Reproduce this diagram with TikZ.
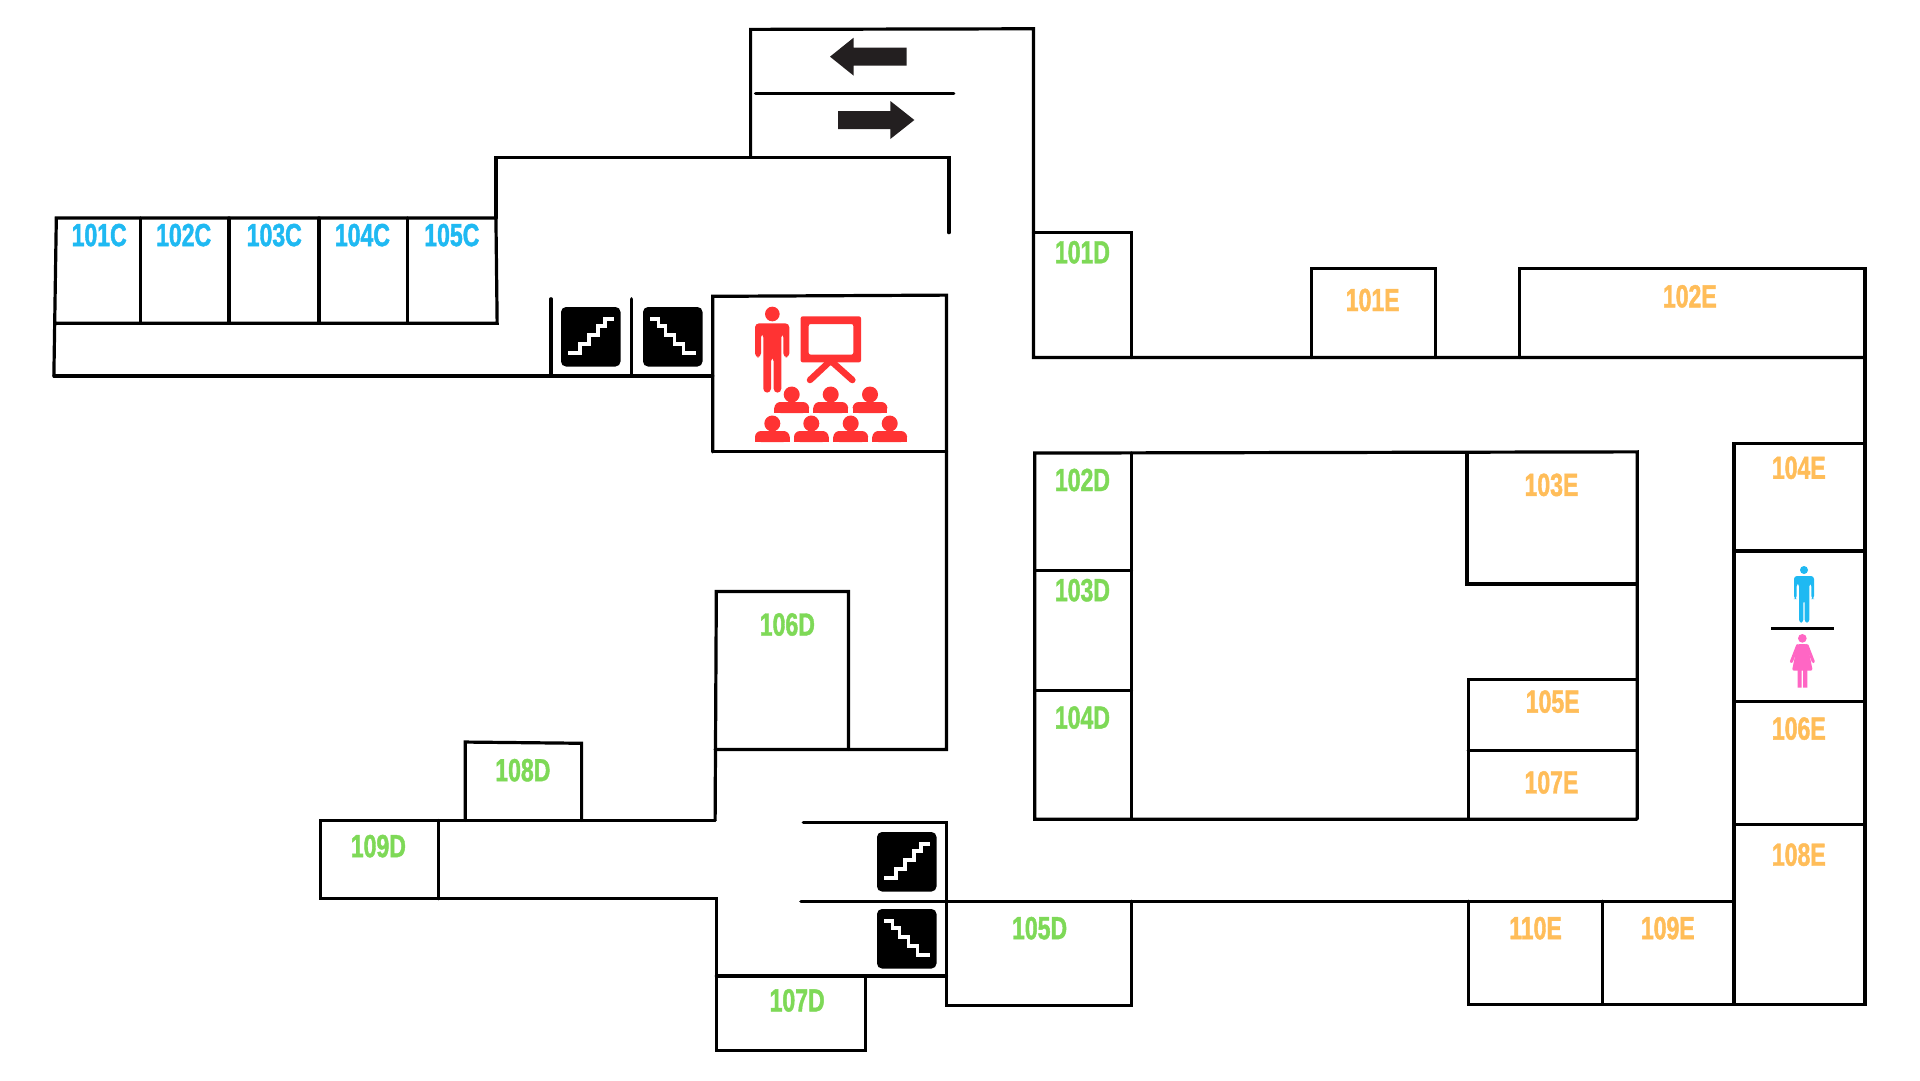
\documentclass[tikz,border=0pt]{standalone}
\usepackage{fontspec}
\newfontfamily\lblfont[FakeStretch=0.72,FakeBold=1.3]{Liberation Sans Bold}
\definecolor{cblue}{HTML}{1FB9F2}
\definecolor{cgreen}{HTML}{7ED957}
\definecolor{corange}{HTML}{FFBD59}
\definecolor{cred}{HTML}{FF3333}
\definecolor{cpink}{HTML}{FF66C4}
\definecolor{carrow}{HTML}{231F20}
\tikzset{
  wall/.style={line width=3.2pt,black,line cap=round,line join=miter},
  lbl/.style={font=\lblfont\fontsize{32}{32}\selectfont,inner sep=0pt},
  lblc/.style={lbl,text=cblue},
  lbld/.style={lbl,text=cgreen},
  lble/.style={lbl,text=corange},
  upstairs/.pic={
    \fill[black,rounded corners=5pt] (0,0) rectangle (59.5,59.5);
    \draw[white,line width=3.8pt,line join=miter] (7,46)--(19,46)--(19,37)--(28,37)--(28,28)--(37,28)--(37,19)--(44,19)--(44,12)--(53,12);
  },
  downstairs/.pic={
    \fill[black,rounded corners=5pt] (0,0) rectangle (59.5,59.5);
    \draw[white,line width=3.8pt,line join=miter] (52.5,46)--(40.5,46)--(40.5,37)--(31.5,37)--(31.5,28)--(22.5,28)--(22.5,19)--(15.5,19)--(15.5,12)--(6.5,12);
  },
  seated/.pic={
    \fill[cred] (0,-18.5) circle (8);
    \fill[cred,rounded corners=6pt] (-17.3,0)--(-17.3,-11)--(17.3,-11)--(17.3,0)--cycle;
    \fill[cred] (-17.3,-5) rectangle (17.3,0);
  }
}
\begin{document}
\begin{tikzpicture}[x=1pt,y=-1pt]
\useasboundingbox[fill=white] (0,0) rectangle (1920,1080);
% walls, in coordinates of a 1568-wide view
\begin{scope}[scale=1.2245]
\draw[wall] (613,128.5)--(613,24)--(844,23.5)--(844,292)--(1523,292);
\draw[wall] (617,76.5)--(779,76.5);
\draw[wall] (405,178)--(405,128.5)--(775,128.5)--(775,190);
\draw[wall] (44,307)--(46,178)--(405,178)--(406,264)--(45,264);
\draw[wall] (115,178)--(115,264) (187,178)--(187,264) (260.5,178)--(260.5,264) (332.5,178)--(332.5,264);
\draw[wall] (44,307)--(582,307);
\draw[wall] (450,244)--(450,307) (516,244)--(516,307);
\draw[wall] (582,369)--(582,242)--(773,241)--(773,612)--(584,612);
\draw[wall] (582,369)--(773,369);
\draw[wall] (584,670)--(585,483)--(693,483)--(693,612);
\draw[wall] (380,670)--(380,606)--(475,607)--(475,670);
\draw[wall] (584,670)--(262,670)--(262,734)--(585,734)--(585,858)--(707,858)--(707,797);
\draw[wall] (358,670)--(358,734);
\draw[wall] (585,797)--(773,797);
\draw[wall] (656,672)--(773,672)--(773,821)--(924,821)--(924,736);
\draw[wall] (654,736)--(1416,736);
\draw[wall] (844,190)--(924,190)--(924,292);
\draw[wall] (1071,292)--(1071,219)--(1172,219)--(1172,292);
\draw[wall] (1241,292)--(1241,219)--(1523,219)--(1523,820)--(1199,820)--(1199,736);
\draw[wall] (1309,736)--(1309,820);
\draw[wall] (1337,669)--(845,669)--(845,370)--(1337,369)--(1337,669);
\draw[wall] (924,370)--(924,669) (845,466)--(924,466) (845,564)--(924,564);
\draw[wall] (1198,370)--(1198,477)--(1337,477);
\draw[wall] (1199,669)--(1199,555)--(1337,555) (1199,613)--(1337,613);
\draw[wall] (1523,362)--(1416,362)--(1416,820);
\draw[wall] (1416,450)--(1523,450) (1416,573)--(1523,573) (1416,673)--(1523,673);
\end{scope}
% stairs
\pic at (561,307) {upstairs};
\pic at (643,307) {downstairs};
\pic at (877,832) {upstairs};
\pic at (877,909) {downstairs};
% arrows
\begin{scope}[shift={(740,10)},scale=1/3]
\fill[carrow] (270,140)--(341,83)--(341,113)--(500,113)--(500,167)--(341,167)--(341,197)--cycle;
\fill[carrow] (523,330)--(451,273)--(451,303)--(294,303)--(294,357)--(451,357)--(451,387)--cycle;
\end{scope}
% presenter
\begin{scope}[shift={(520,270)},scale=1/3]
\fill[cred] (757,132) circle (22);
\fill[cred,rounded corners=4pt] (705,262)--(705,160)--(808,160)--(808,262)--(790,262)--(790,190)--(784,190)--(784,368)--(761,368)--(761,262)--(753,262)--(753,368)--(730,368)--(730,190)--(723,190)--(723,262)--cycle;
\fill[cred,rounded corners=2pt,even odd rule] (842,139) rectangle (1023,277) (866,162) rectangle (1000,254);
\draw[cred,line width=6.5pt,line cap=round] (870,330)--(932,272)--(997,330);
\end{scope}
\foreach \cx/\by in {791.7/413,830.7/413,870/413,772.3/442,811.3/442,850.7/442,889.7/442}{
  \pic at (\cx,\by) {seated};
}
% toilets
\begin{scope}[shift={(1720,540)},scale=1/3]
\fill[cblue] (252,90) circle (12);
\fill[cblue,rounded corners=3pt] (222,177)--(222,108)--(282,108)--(282,177)--(274,177)--(274,130)--(268,130)--(268,248)--(254,248)--(254,180)--(250,180)--(250,248)--(237,248)--(237,130)--(230,130)--(230,177)--cycle;
\fill[black] (153,261) rectangle (341,269);
\fill[cpink] (247,295) circle (13);
\fill[cpink,rounded corners=2pt] (232,312)--(262,312)--(278,392)--(216,392)--cycle;
\fill[cpink] (233,388) rectangle (245,443) (249,388) rectangle (262,443);
\draw[cpink,line width=3pt,line cap=round] (233,316)--(214,365) (261,316)--(280,365);
\end{scope}
% labels
\begin{scope}[scale=1.2245]
\foreach \n/\x/\y in {101C/81/192,102C/150/192,103C/224/192,104C/296/192,105C/369/192}{
  \node[lblc] (r\n) at (\x,\y) {\n};
}
\foreach \n/\x/\y in {101D/884/206,102D/884/392,103D/884/482,104D/884/586,105D/849/758,106D/643/510,107D/651/817,108D/427/629,109D/309/691}{
  \node[lbld] (r\n) at (\x,\y) {\n};
}
\foreach \n/\x/\y in {101E/1121/245,102E/1380/242,103E/1267/396,104E/1469/382,105E/1268/573,106E/1469/595,107E/1267/639,108E/1469/698,109E/1362/758,110E/1254/758}{
  \node[lble] (r\n) at (\x,\y) {\n};
}
\end{scope}
\end{tikzpicture}
\end{document}
